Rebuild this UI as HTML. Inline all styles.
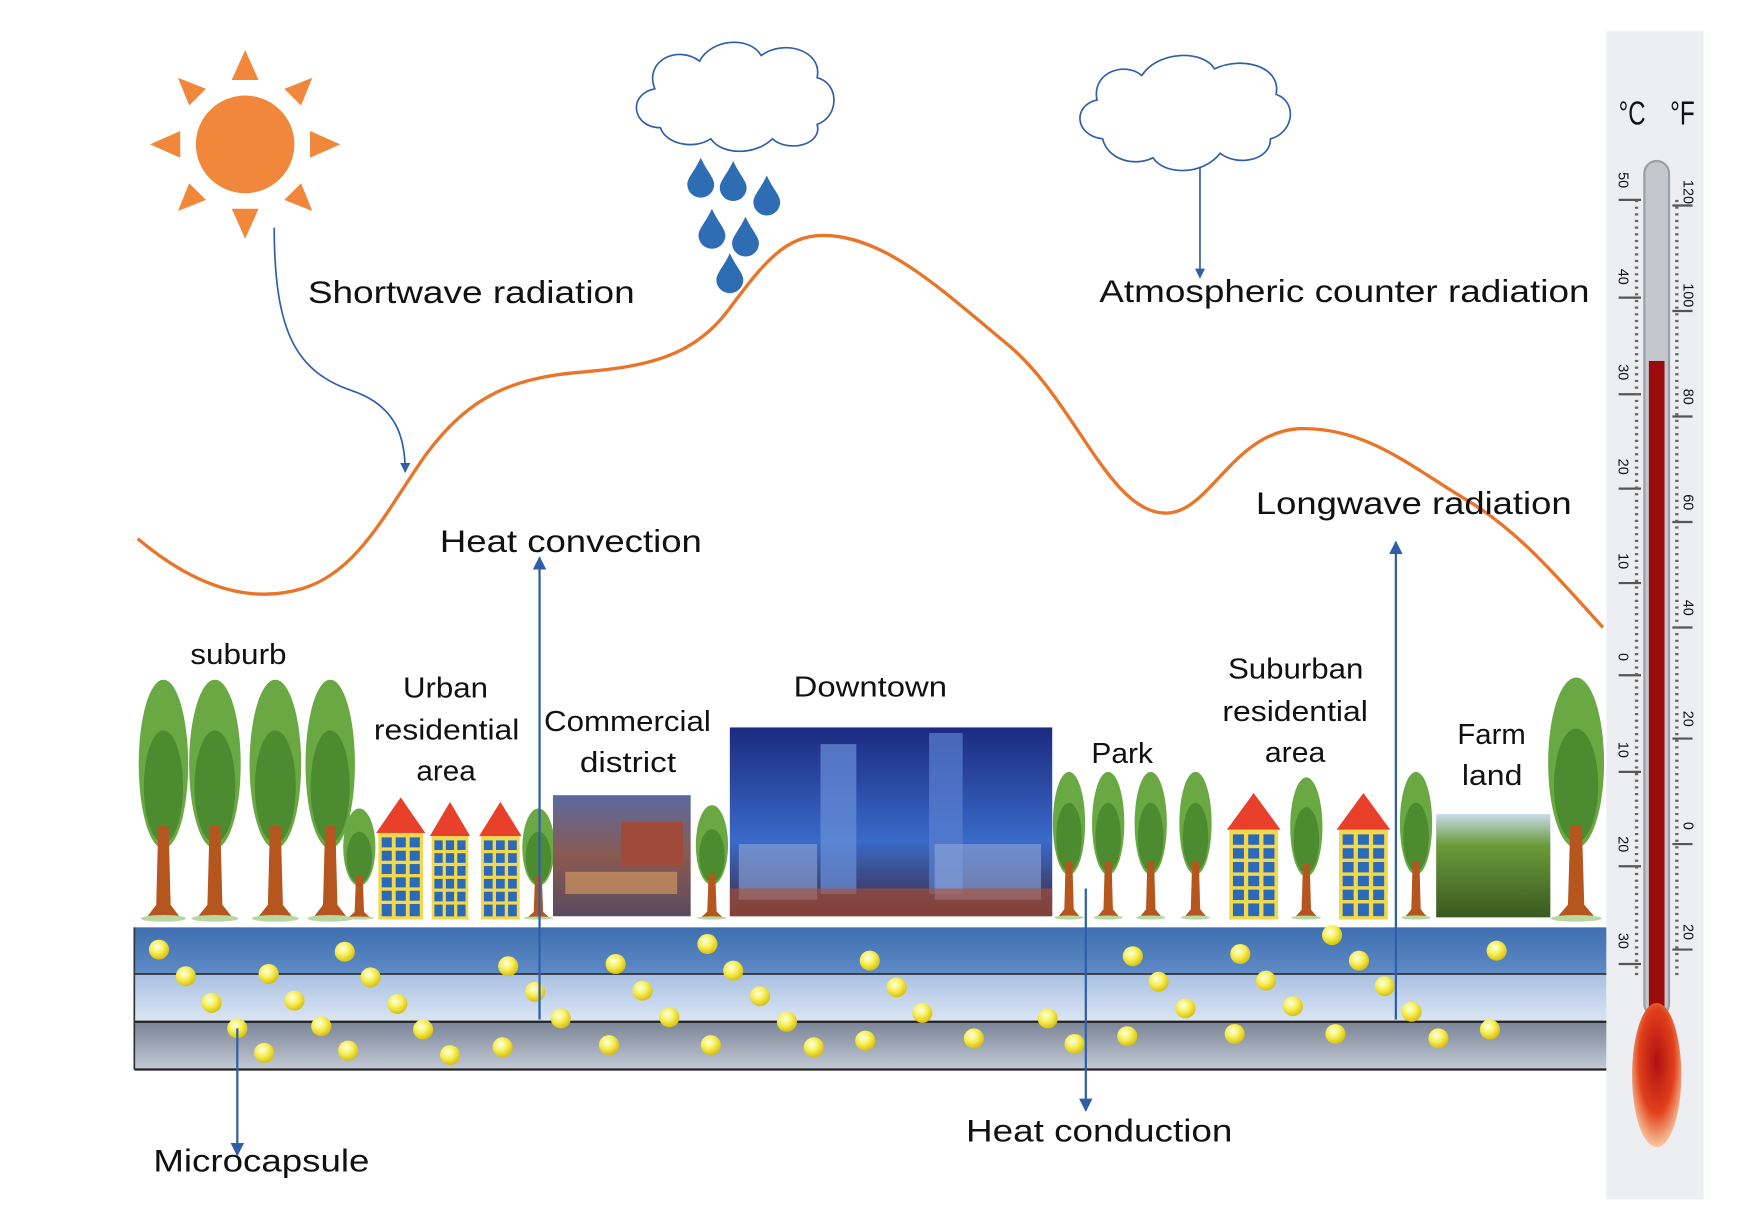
<!DOCTYPE html>
<html><head><meta charset="utf-8"><style>
html,body{margin:0;padding:0;background:#fff;}
svg{display:block;}
text{font-family:"Liberation Sans",sans-serif;fill:#111;}
</style></head><body>
<svg width="1744" height="1205" viewBox="0 0 1558 1085" preserveAspectRatio="none" xmlns="http://www.w3.org/2000/svg">
<defs>
<radialGradient id="ball" cx="40%" cy="35%" r="65%"><stop offset="0" stop-color="#ffffe8"/><stop offset="0.5" stop-color="#f7f05a"/><stop offset="1" stop-color="#d8c010"/></radialGradient>
<linearGradient id="r1" x1="0" y1="0" x2="0" y2="1"><stop offset="0" stop-color="#3f6fb0"/><stop offset="1" stop-color="#5f8bc6"/></linearGradient>
<linearGradient id="r2" x1="0" y1="0" x2="0" y2="1"><stop offset="0" stop-color="#a9c0e2"/><stop offset="1" stop-color="#dbe6f4"/></linearGradient>
<linearGradient id="r3" x1="0" y1="0" x2="0" y2="1"><stop offset="0" stop-color="#7a8496"/><stop offset="1" stop-color="#c4cad6"/></linearGradient>
<radialGradient id="bulb" cx="50%" cy="40%" r="60%"><stop offset="0" stop-color="#b01010"/><stop offset="0.6" stop-color="#e0401a"/><stop offset="1" stop-color="#f8c8a0"/></radialGradient>
<linearGradient id="dt" x1="0" y1="0" x2="0" y2="1"><stop offset="0" stop-color="#1c2a80"/><stop offset="0.6" stop-color="#3a6ac8"/><stop offset="1" stop-color="#402a40"/></linearGradient>
<linearGradient id="cm" x1="0" y1="0" x2="0" y2="1"><stop offset="0" stop-color="#5a6aa0"/><stop offset="0.5" stop-color="#8a5a50"/><stop offset="1" stop-color="#5a4a60"/></linearGradient>
<linearGradient id="fm" x1="0" y1="0" x2="0" y2="1"><stop offset="0" stop-color="#c8dcea"/><stop offset="0.3" stop-color="#6a9a3a"/><stop offset="1" stop-color="#3a5a20"/></linearGradient>
<symbol id="tree" viewBox="0 0 50 215" preserveAspectRatio="none">
<ellipse cx="25" cy="75" rx="24" ry="75" fill="#6aa843"/>
<ellipse cx="25" cy="95" rx="19" ry="50" fill="#4d8b30"/>
<polygon points="20,130 30,130 32,200 42,212 8,212 18,200" fill="#b5561e"/>
<ellipse cx="25" cy="212" rx="22" ry="3" fill="#b8d8a0"/>
</symbol>
<symbol id="house" viewBox="0 0 44 110" preserveAspectRatio="none">
<polygon points="22,0 44,32 0,32" fill="#e8402a"/>
<rect x="2" y="32" width="40" height="78" fill="#f2d84a"/>
<g fill="#2a6ab8">
<rect x="5" y="36" width="9" height="9"/><rect x="17.5" y="36" width="9" height="9"/><rect x="30" y="36" width="9" height="9"/>
<rect x="5" y="48" width="9" height="9"/><rect x="17.5" y="48" width="9" height="9"/><rect x="30" y="48" width="9" height="9"/>
<rect x="5" y="60" width="9" height="9"/><rect x="17.5" y="60" width="9" height="9"/><rect x="30" y="60" width="9" height="9"/>
<rect x="5" y="72" width="9" height="9"/><rect x="17.5" y="72" width="9" height="9"/><rect x="30" y="72" width="9" height="9"/>
<rect x="5" y="84" width="9" height="9"/><rect x="17.5" y="84" width="9" height="9"/><rect x="30" y="84" width="9" height="9"/>
<rect x="5" y="96" width="9" height="11"/><rect x="17.5" y="96" width="9" height="11"/><rect x="30" y="96" width="9" height="11"/>
</g>
</symbol>
<marker id="ah" viewBox="0 0 10 10" refX="9" refY="5" markerWidth="6" markerHeight="6" orient="auto"><path d="M0,0 L10,5 L0,10 z" fill="#2f5fa8"/></marker>
</defs>

<!-- thermometer -->
<rect x="1435" y="28" width="87" height="1052" fill="#eceef1"/>
<text x="1446" y="112" font-size="30" textLength="24" lengthAdjust="spacingAndGlyphs" fill="#444">°C</text>
<text x="1492" y="112" font-size="30" textLength="22" lengthAdjust="spacingAndGlyphs" fill="#444">°F</text>
<rect x="1469" y="145" width="22" height="770" rx="11" fill="#c4c8cc" stroke="#9aa0a6" stroke-width="2"/>
<rect x="1473" y="325" width="14" height="600" fill="#9a0c0c"/>
<ellipse cx="1480" cy="968" rx="22" ry="65" fill="url(#bulb)"/>
<g stroke="#555" stroke-width="2">
<line x1="1446" y1="180" x2="1466" y2="180"/><line x1="1446" y1="268" x2="1466" y2="268"/><line x1="1446" y1="355" x2="1466" y2="355"/><line x1="1446" y1="440" x2="1466" y2="440"/><line x1="1446" y1="525" x2="1466" y2="525"/><line x1="1446" y1="608" x2="1466" y2="608"/><line x1="1446" y1="695" x2="1466" y2="695"/><line x1="1446" y1="780" x2="1466" y2="780"/><line x1="1446" y1="868" x2="1466" y2="868"/>
<line x1="1494" y1="185" x2="1512" y2="185"/><line x1="1494" y1="280" x2="1512" y2="280"/><line x1="1494" y1="375" x2="1512" y2="375"/><line x1="1494" y1="470" x2="1512" y2="470"/><line x1="1494" y1="565" x2="1512" y2="565"/><line x1="1494" y1="665" x2="1512" y2="665"/><line x1="1494" y1="760" x2="1512" y2="760"/><line x1="1494" y1="855" x2="1512" y2="855"/>
</g>
<g stroke="#666" stroke-width="3" stroke-dasharray="2,4">
<line x1="1462" y1="180" x2="1462" y2="880"/><line x1="1498" y1="180" x2="1498" y2="880"/>
</g>
<g font-size="13" fill="#333">
<text transform="translate(1446,155) rotate(90)">50</text><text transform="translate(1446,242) rotate(90)">40</text><text transform="translate(1446,328) rotate(90)">30</text><text transform="translate(1446,413) rotate(90)">20</text><text transform="translate(1446,498) rotate(90)">10</text><text transform="translate(1446,588) rotate(90)">0</text><text transform="translate(1446,668) rotate(90)">10</text><text transform="translate(1446,753) rotate(90)">20</text><text transform="translate(1446,840) rotate(90)">30</text>
<text transform="translate(1504,162) rotate(90)">120</text><text transform="translate(1504,255) rotate(90)">100</text><text transform="translate(1504,350) rotate(90)">80</text><text transform="translate(1504,445) rotate(90)">60</text><text transform="translate(1504,540) rotate(90)">40</text><text transform="translate(1504,640) rotate(90)">20</text><text transform="translate(1504,740) rotate(90)">0</text><text transform="translate(1504,832) rotate(90)">20</text>
</g>

<!-- sun -->
<g fill="#f0873a">
<circle cx="219" cy="130" r="44"/>
<polygon points="219,45 207,72 231,72"/><polygon points="219,215 207,188 231,188"/>
<polygon points="134,130 161,118 161,142"/><polygon points="304,130 277,118 277,142"/>
<polygon points="159,70 184,80 169,95"/><polygon points="279,70 254,80 269,95"/>
<polygon points="159,190 184,180 169,165"/><polygon points="279,190 254,180 269,165"/>
</g>

<!-- clouds -->
<path d="M590,115 C565,115 560,85 585,80 C575,55 605,40 625,55 C635,35 670,32 680,50 C700,35 735,45 730,70 C750,75 750,105 730,112 C735,130 705,138 690,125 C675,140 645,140 635,125 C620,135 595,130 590,115 Z" fill="#fff" stroke="#2f5fa8" stroke-width="1.5"/>
<path d="M985,125 C960,122 958,95 980,90 C975,65 1005,55 1020,68 C1035,45 1075,45 1085,62 C1110,50 1145,60 1140,85 C1160,92 1155,120 1135,125 C1135,145 1105,150 1090,138 C1075,158 1040,158 1030,142 C1015,150 990,145 985,125 Z" fill="#fff" stroke="#2f5fa8" stroke-width="1.5"/>
<g fill="#2e6db4">
<path d="M626,142 C620,155 614,160 614,166 A12,12 0 0,0 638,166 C638,160 632,155 626,142Z"/>
<path d="M655,145 C649,158 643,163 643,169 A12,12 0 0,0 667,169 C667,163 661,158 655,145Z"/>
<path d="M685,158 C679,171 673,176 673,182 A12,12 0 0,0 697,182 C697,176 691,171 685,158Z"/>
<path d="M636,188 C630,201 624,206 624,212 A12,12 0 0,0 648,212 C648,206 642,201 636,188Z"/>
<path d="M666,195 C660,208 654,213 654,219 A12,12 0 0,0 678,219 C678,213 672,208 666,195Z"/>
<path d="M652,228 C646,241 640,246 640,252 A12,12 0 0,0 664,252 C664,246 658,241 652,228Z"/>
</g>
<line x1="1072" y1="150" x2="1072" y2="250" stroke="#2f5fa8" stroke-width="1.5" marker-end="url(#ah)"/>

<!-- orange curve -->
<path d="M123,485 C170,525 220,545 270,530 C320,515 345,460 380,410 C420,355 460,340 520,335 C580,330 620,320 650,280 C680,240 700,212 735,212 C790,212 840,260 900,310 C960,360 990,460 1040,462 C1080,464 1100,390 1160,386 C1220,384 1260,420 1310,450 C1360,480 1400,530 1432,565" fill="none" stroke="#e87529" stroke-width="3"/>

<!-- shortwave arrow -->
<path d="M245,205 C245,300 265,335 315,352 C355,366 362,395 362,425" fill="none" stroke="#2f5fa8" stroke-width="1.5" marker-end="url(#ah)"/>

<!-- labels -->
<g font-size="28" lengthAdjust="spacingAndGlyphs">
<text x="275" y="273" textLength="292" lengthAdjust="spacingAndGlyphs">Shortwave radiation</text>
<text x="982" y="272" textLength="438" lengthAdjust="spacingAndGlyphs">Atmospheric counter radiation</text>
<text x="393" y="497" textLength="234" lengthAdjust="spacingAndGlyphs">Heat convection</text>
<text x="1122" y="463" textLength="282" lengthAdjust="spacingAndGlyphs">Longwave radiation</text>
<text x="863" y="1028" textLength="238" lengthAdjust="spacingAndGlyphs">Heat conduction</text>
<text x="137" y="1055" textLength="193" lengthAdjust="spacingAndGlyphs">Microcapsule</text>
</g>
<g font-size="26">
<text x="170" y="598" textLength="86" lengthAdjust="spacingAndGlyphs">suburb</text>
<text x="360" y="628" textLength="76" lengthAdjust="spacingAndGlyphs">Urban</text><text x="334" y="666" textLength="130" lengthAdjust="spacingAndGlyphs">residential</text><text x="372" y="703" textLength="53" lengthAdjust="spacingAndGlyphs">area</text>
<text x="486" y="658" textLength="149" lengthAdjust="spacingAndGlyphs">Commercial</text><text x="518" y="695" textLength="86" lengthAdjust="spacingAndGlyphs">district</text>
<text x="709" y="627" textLength="137" lengthAdjust="spacingAndGlyphs">Downtown</text>
<text x="975" y="687" textLength="55" lengthAdjust="spacingAndGlyphs">Park</text>
<text x="1097" y="611" textLength="121" lengthAdjust="spacingAndGlyphs">Suburban</text><text x="1092" y="649" textLength="130" lengthAdjust="spacingAndGlyphs">residential</text><text x="1130" y="686" textLength="54" lengthAdjust="spacingAndGlyphs">area</text>
<text x="1302" y="670" textLength="61" lengthAdjust="spacingAndGlyphs">Farm</text><text x="1306" y="707" textLength="54" lengthAdjust="spacingAndGlyphs">land</text>
</g>

<!-- scene -->
<use href="#tree" x="123" y="612" width="46" height="218"/>
<use href="#tree" x="168" y="612" width="48" height="218"/>
<use href="#tree" x="222" y="612" width="48" height="218"/>
<use href="#tree" x="272" y="612" width="46" height="218"/>
<use href="#tree" x="306" y="728" width="30" height="100"/>
<use href="#house" x="336" y="718" width="44" height="110"/>
<use href="#house" x="384" y="722" width="36" height="106"/>
<use href="#house" x="428" y="722" width="38" height="106"/>
<use href="#tree" x="466" y="728" width="30" height="100"/>
<rect x="494" y="716" width="123" height="109" fill="url(#cm)"/>
<rect x="555" y="740" width="55" height="40" fill="#a04a3a"/>
<rect x="505" y="785" width="100" height="20" fill="#e0a060" opacity="0.6"/>
<use href="#tree" x="621" y="725" width="30" height="103"/>
<rect x="652" y="655" width="288" height="170" fill="url(#dt)"/>
<rect x="733" y="670" width="32" height="135" fill="#6a90d8" opacity="0.7"/>
<rect x="830" y="660" width="30" height="145" fill="#5a80d0" opacity="0.7"/>
<rect x="660" y="760" width="70" height="50" fill="#90a8d8" opacity="0.6"/>
<rect x="835" y="760" width="95" height="50" fill="#90a8d8" opacity="0.6"/>
<rect x="652" y="800" width="288" height="25" fill="#b05030" opacity="0.6"/>
<use href="#tree" x="940" y="695" width="30" height="133"/>
<use href="#tree" x="975" y="695" width="30" height="133"/>
<use href="#tree" x="1013" y="695" width="30" height="133"/>
<use href="#tree" x="1053" y="695" width="30" height="133"/>
<use href="#house" x="1096" y="714" width="48" height="114"/>
<use href="#tree" x="1152" y="700" width="30" height="128"/>
<use href="#house" x="1194" y="714" width="48" height="114"/>
<use href="#tree" x="1250" y="695" width="30" height="133"/>
<rect x="1283" y="733" width="102" height="93" fill="url(#fm)"/>
<use href="#tree" x="1382" y="610" width="52" height="220"/>

<!-- road -->
<rect x="120" y="835" width="1315" height="42" fill="url(#r1)"/>
<rect x="120" y="877" width="1315" height="43" fill="url(#r2)"/>
<rect x="120" y="920" width="1315" height="43" fill="url(#r3)"/>
<line x1="120" y1="877" x2="1435" y2="877" stroke="#333" stroke-width="1.5"/>
<line x1="120" y1="920" x2="1435" y2="920" stroke="#222" stroke-width="2"/>
<line x1="120" y1="963" x2="1435" y2="963" stroke="#222" stroke-width="2"/>
<line x1="120" y1="835" x2="120" y2="963" stroke="#333" stroke-width="1.5"/>

<g fill="url(#ball)">
<circle cx="142" cy="855" r="9"/><circle cx="166" cy="879" r="9"/><circle cx="189" cy="903" r="9"/><circle cx="212" cy="926" r="9"/><circle cx="236" cy="948" r="9"/>
<circle cx="240" cy="877" r="9"/><circle cx="263" cy="901" r="9"/><circle cx="287" cy="924" r="9"/><circle cx="311" cy="946" r="9"/>
<circle cx="308" cy="857" r="9"/><circle cx="331" cy="880" r="9"/><circle cx="355" cy="904" r="9"/><circle cx="378" cy="927" r="9"/><circle cx="402" cy="950" r="9"/>
<circle cx="449" cy="943" r="9"/><circle cx="454" cy="870" r="9"/><circle cx="478" cy="893" r="9"/><circle cx="501" cy="917" r="9"/>
<circle cx="544" cy="941" r="9"/><circle cx="550" cy="868" r="9"/><circle cx="574" cy="892" r="9"/><circle cx="598" cy="916" r="9"/>
<circle cx="632" cy="850" r="9"/><circle cx="655" cy="874" r="9"/><circle cx="679" cy="897" r="9"/><circle cx="703" cy="920" r="9"/>
<circle cx="635" cy="941" r="9"/><circle cx="727" cy="943" r="9"/><circle cx="773" cy="937" r="9"/>
<circle cx="777" cy="865" r="9"/><circle cx="801" cy="889" r="9"/><circle cx="824" cy="912" r="9"/><circle cx="870" cy="935" r="9"/>
<circle cx="936" cy="917" r="9"/><circle cx="960" cy="940" r="9"/><circle cx="1007" cy="933" r="9"/>
<circle cx="1012" cy="861" r="9"/><circle cx="1035" cy="884" r="9"/><circle cx="1059" cy="908" r="9"/><circle cx="1103" cy="931" r="9"/>
<circle cx="1108" cy="859" r="9"/><circle cx="1131" cy="883" r="9"/><circle cx="1155" cy="906" r="9"/>
<circle cx="1190" cy="842" r="9"/><circle cx="1214" cy="865" r="9"/><circle cx="1237" cy="888" r="9"/><circle cx="1261" cy="911" r="9"/><circle cx="1285" cy="935" r="9"/>
<circle cx="1193" cy="931" r="9"/><circle cx="1331" cy="927" r="9"/><circle cx="1337" cy="856" r="9"/>
</g>

<!-- arrows -->
<g stroke="#2f5fa8" stroke-width="2" fill="none">
<line x1="482" y1="918" x2="482" y2="502" marker-end="url(#ah)"/>
<line x1="1247" y1="918" x2="1247" y2="488" marker-end="url(#ah)"/>
<line x1="970" y1="800" x2="970" y2="1000" marker-end="url(#ah)"/>
<line x1="212" y1="926" x2="212" y2="1040" marker-end="url(#ah)"/>
</g>
</svg>
</body></html>
